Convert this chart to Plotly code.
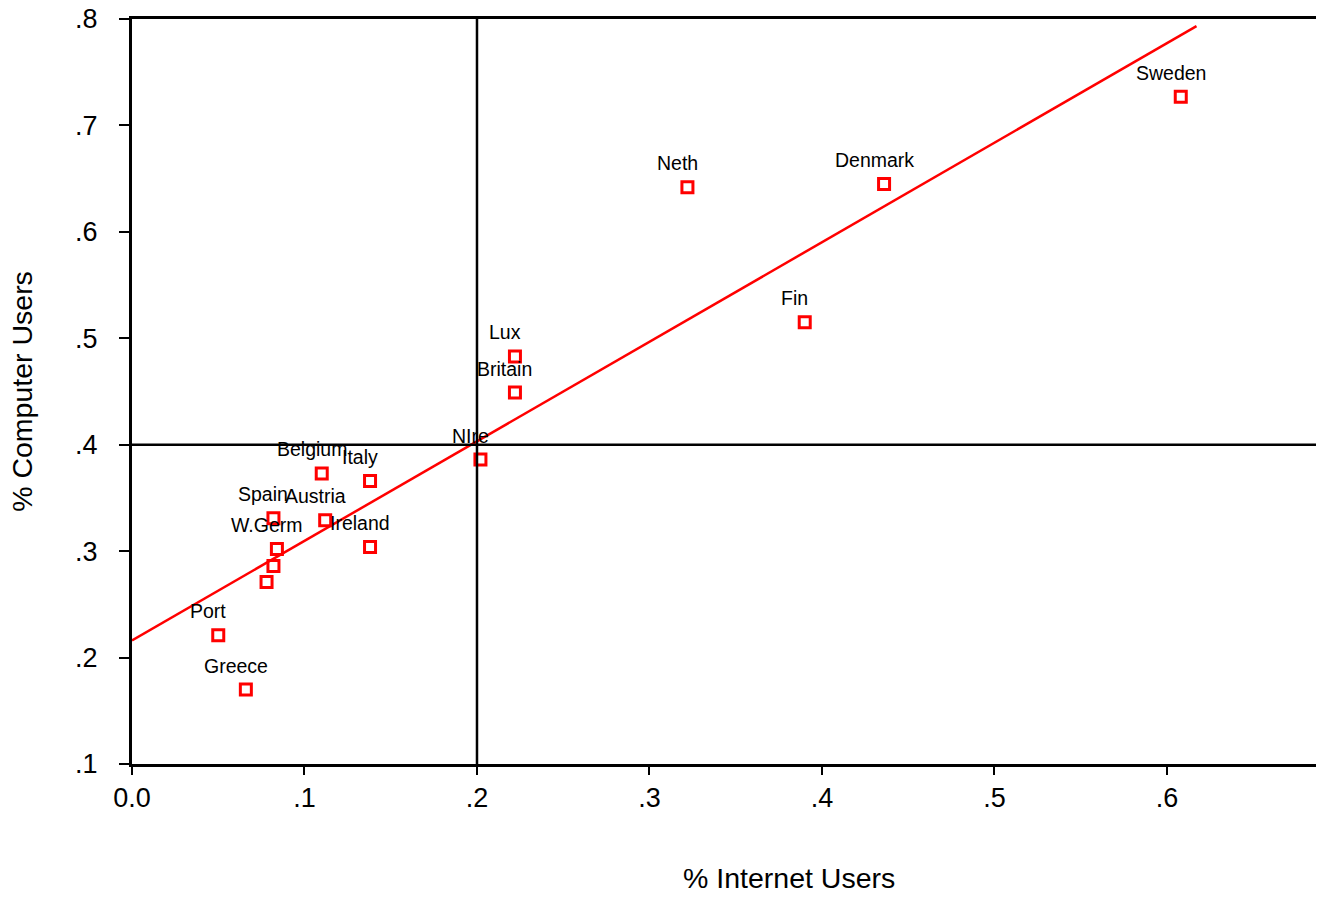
import numpy as np
import plotly.graph_objects as go

# Data
countries = ["Sweden", "Denmark", "Neth", "Fin", "Lux", "Britain", "NIre",
             "Belgium", "Italy", "Spain", "Austria", "Ireland", "W.Germ",
             "", "", "Port", "Greece"]
internet_users = [0.608, 0.436, 0.322, 0.390, 0.222, 0.222, 0.202,
                  0.110, 0.138, 0.082, 0.112, 0.138, 0.084,
                  0.082, 0.078, 0.050, 0.066]
computer_users = [0.727, 0.645, 0.642, 0.515, 0.483, 0.449, 0.386,
                  0.373, 0.366, 0.331, 0.329, 0.304, 0.302,
                  0.286, 0.271, 0.221, 0.170]

x_ref = 0.2
y_ref = 0.4

x_tickvals = [0.0, 0.1, 0.2, 0.3, 0.4, 0.5, 0.6]
x_ticktext = ["0.0", ".1", ".2", ".3", ".4", ".5", ".6"]
y_tickvals = [0.1, 0.2, 0.3, 0.4, 0.5, 0.6, 0.7, 0.8]
y_ticktext = [".1", ".2", ".3", ".4", ".5", ".6", ".7", ".8"]

x_range = [0.0, 0.6864]
y_range = [0.1, 0.8]

FONT = "Liberation Sans, Arial, sans-serif"
RED = "#ff0000"

# OLS fit line
xa = np.array(internet_users)
ya = np.array(computer_users)
slope, intercept = np.polyfit(xa, ya, 1)
fit_x = np.array([x_range[0], xa.max() * 1.015])
fit_y = intercept + slope * fit_x

fig = go.Figure()

fig.add_trace(go.Scatter(
    x=fit_x, y=fit_y, mode="lines",
    line=dict(color=RED, width=2.5), hoverinfo="skip", showlegend=False,
))

fig.add_trace(go.Scatter(
    x=internet_users, y=computer_users, mode="markers",
    marker=dict(symbol="square-open", size=11, color=RED,
                line=dict(color=RED, width=3)),
    showlegend=False,
))

for name, xv, yv in zip(countries, internet_users, computer_users):
    if name:
        fig.add_annotation(x=xv, y=yv, text=name, showarrow=False,
                           xanchor="center", yanchor="bottom",
                           xshift=-10, yshift=11,
                           font=dict(family=FONT, size=19.5, color="black"))

# x-axis title (offset to the right of the plot centre, as in the reference)
fig.add_annotation(xref="paper", yref="paper", x=0.555, y=-0.153,
                   xanchor="center", yanchor="middle", showarrow=False,
                   text="% Internet Users",
                   font=dict(family=FONT, size=28.5, color="black"))

fig.add_vline(x=x_ref, line=dict(color="black", width=2.5))
fig.add_hline(y=y_ref, line=dict(color="black", width=2.5))

fig.update_layout(
    width=1329, height=897,
    margin=dict(l=132, r=13, t=19, b=133),
    paper_bgcolor="white", plot_bgcolor="white",
    font=dict(family=FONT, color="black"),
    xaxis=dict(
        range=x_range, tickvals=x_tickvals, ticktext=x_ticktext,
        showgrid=False, zeroline=False, automargin=False,
        showline=True, linecolor="black", linewidth=3, mirror=True,
        ticks="outside", ticklen=8, tickwidth=2, tickcolor="black",
        tickfont=dict(family=FONT, size=27),
        ticklabeloverflow="allow",
    ),
    yaxis=dict(
        range=y_range, tickvals=y_tickvals, ticktext=y_ticktext,
        showgrid=False, zeroline=False, automargin=False,
        showline=True, linecolor="black", linewidth=3,
        ticks="outside", ticklen=10, tickwidth=2, tickcolor="black",
        tickfont=dict(family=FONT, size=27),
        ticklabelstandoff=16,
        ticklabeloverflow="allow",
        title=dict(text="% Computer Users", font=dict(family=FONT, size=28.5),
                   standoff=35),
    ),
)

fig.write_html(
    "out.html",
    config={"displayModeBar": False},
    post_script="document.body.style.margin='0';document.body.style.overflow='hidden';",
)
